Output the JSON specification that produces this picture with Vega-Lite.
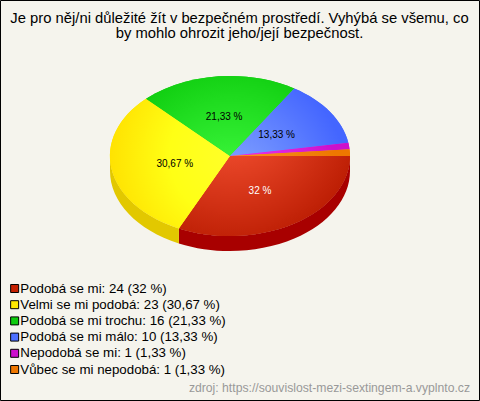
{
"$schema":"https://vega.github.io/schema/vega-lite/v6.json",
"width":479,"height":400,"padding":{"left":0,"top":0,"right":1,"bottom":1},"autosize":{"type":"none"},
"background":"#F5F4ED",
"config":{"view":{"stroke":"#000","strokeWidth":1,"fill":"#F5F4ED"},"font":"Liberation Sans"},
"title":{"text":["Je pro něj/ni důležité žít v bezpečném prostředí. Vyhýbá se všemu, co","by mohlo ohrozit jeho/její bezpečnost."],"fontSize":14.8,"fontWeight":"normal","color":"#000","anchor":"middle","lineHeight":15,"offset":-41,"font":"Liberation Sans"},
"data":{"values":[
{"i":1,"pocet":24,"label":"Podobá se mi: 24 (32 %)","pct":"32 %"},
{"i":2,"pocet":23,"label":"Velmi se mi podobá: 23 (30,67 %)","pct":"30,67 %"},
{"i":3,"pocet":16,"label":"Podobá se mi trochu: 16 (21,33 %)","pct":"21,33 %"},
{"i":4,"pocet":10,"label":"Podobá se mi málo: 10 (13,33 %)","pct":"13,33 %"},
{"i":5,"pocet":1,"label":"Nepodobá se mi: 1 (1,33 %)","pct":"1,33 %"},
{"i":6,"pocet":1,"label":"Vůbec se mi nepodobá: 1 (1,33 %)","pct":"1,33 %"}
]},
"transform":[
{"joinaggregate":[{"op":"sum","field":"pocet","as":"celkem"}]},
{"stack":"pocet","sort":[{"field":"i","order":"ascending"}],"as":["s0","s1"]},
{"calculate":"datum.s0/datum.celkem*2*PI","as":"a0"},
{"calculate":"datum.s1/datum.celkem*2*PI","as":"a1"},
{"calculate":"round(12000*cos(datum.a0))/100","as":"x0"},
{"calculate":"round(8000*sin(datum.a0))/100","as":"y0"},
{"calculate":"round(12000*cos(datum.a1))/100","as":"x1"},
{"calculate":"round(8000*sin(datum.a1))/100","as":"y1"},
{"calculate":"min(datum.a1,PI)","as":"w1"},
{"calculate":"round(12000*cos(datum.w1))/100","as":"xw"},
{"calculate":"round(8000*sin(datum.w1))/100","as":"yw"},
{"calculate":"'M0,0 L'+datum.x0+','+datum.y0+' A120,80 0 0 1 '+datum.x1+','+datum.y1+' Z'","as":"d"},
{"calculate":"'M'+datum.x0+','+datum.y0+' A120,80 0 0 1 '+datum.xw+','+datum.yw+' L'+datum.xw+','+(datum.yw+15)+' A120,80 0 0 0 '+datum.x0+','+(datum.y0+15)+' Z'","as":"w"},
{"calculate":"230+56*cos((datum.a0+datum.a1)/2)","as":"lx"},
{"calculate":"157+40*sin((datum.a0+datum.a1)/2)","as":"ly"}
],
"layer":[
{"mark":{"type":"point","filled":true,"opacity":1,"size":4,"xOffset":-9.5,"yOffset":-44},
 "encoding":{
  "shape":{"field":"d","type":"nominal","scale":null,"legend":null},
  "color":{"field":"label","type":"nominal","sort":null,
   "scale":{"domain":["Podobá se mi: 24 (32 %)","Velmi se mi podobá: 23 (30,67 %)","Podobá se mi trochu: 16 (21,33 %)","Podobá se mi málo: 10 (13,33 %)","Nepodobá se mi: 1 (1,33 %)","Vůbec se mi nepodobá: 1 (1,33 %)"],"range":["#C42000","#FFE800","#0FCC0F","#4D70FF","#CC10CC","#EE7700"]},
   "legend":{"orient":"none","legendX":8,"legendY":281,"title":null,"symbolType":"square","symbolSize":64,"symbolStrokeColor":"#000","symbolStrokeWidth":1,"symbolOpacity":1,"labelFontSize":13.3,"labelColor":"#000","labelFont":"Liberation Sans","labelOffset":-1,"rowPadding":1.2,"clipHeight":15,"labelLimit":300}}}},
{"transform":[{"filter":"datum.i==1"}],"mark":{"type":"point","filled":true,"opacity":1,"size":4,"xOffset":-9.5,"yOffset":-44,"fill":"#A80000"},"encoding":{"shape":{"field":"w","type":"nominal","scale":null,"legend":null}}},
{"transform":[{"filter":"datum.i==2"}],"mark":{"type":"point","filled":true,"opacity":1,"size":4,"xOffset":-9.5,"yOffset":-44,"fill":"#E2C800"},"encoding":{"shape":{"field":"w","type":"nominal","scale":null,"legend":null}}},
{"transform":[{"filter":"datum.i==1"}],"mark":{"type":"point","filled":true,"opacity":1,"size":4,"xOffset":-9.5,"yOffset":-44,"fill":{"gradient":"radial","x1":0.294,"y1":0,"r1":0,"x2":0.294,"y2":0,"r2":0.85,"stops":[{"offset":0,"color":"#FF5A3A"},{"offset":1,"color":"#B81A00"}]}},"encoding":{"shape":{"field":"d","type":"nominal","scale":null,"legend":null}}},
{"transform":[{"filter":"datum.i==2"}],"mark":{"type":"point","filled":true,"opacity":1,"size":4,"xOffset":-9.5,"yOffset":-44,"fill":{"gradient":"radial","x1":1,"y1":0.44,"r1":0,"x2":1,"y2":0.44,"r2":1,"stops":[{"offset":0,"color":"#FFFF2A"},{"offset":0.5,"color":"#FFFF15"},{"offset":1,"color":"#FFE000"}]}},"encoding":{"shape":{"field":"d","type":"nominal","scale":null,"legend":null}}},
{"transform":[{"filter":"datum.i==3"}],"mark":{"type":"point","filled":true,"opacity":1,"size":4,"xOffset":-9.5,"yOffset":-44,"fill":{"gradient":"radial","x1":0.57,"y1":1,"r1":0,"x2":0.57,"y2":1,"r2":0.95,"stops":[{"offset":0,"color":"#44FF44"},{"offset":1,"color":"#0AC80A"}]}},"encoding":{"shape":{"field":"d","type":"nominal","scale":null,"legend":null}}},
{"transform":[{"filter":"datum.i==4"}],"mark":{"type":"point","filled":true,"opacity":1,"size":4,"xOffset":-9.5,"yOffset":-44,"fill":{"gradient":"radial","x1":0,"y1":1,"r1":0,"x2":0,"y2":1,"r2":1,"stops":[{"offset":0,"color":"#88A8FF"},{"offset":1,"color":"#4466FF"}]}},"encoding":{"shape":{"field":"d","type":"nominal","scale":null,"legend":null}}},
{"transform":[{"filter":"datum.i==5"}],"mark":{"type":"point","filled":true,"opacity":1,"size":4,"xOffset":-9.5,"yOffset":-44,"fill":{"gradient":"radial","x1":0,"y1":1,"r1":0,"x2":0,"y2":1,"r2":1,"stops":[{"offset":0,"color":"#FF44FF"},{"offset":1,"color":"#CC10CC"}]}},"encoding":{"shape":{"field":"d","type":"nominal","scale":null,"legend":null}}},
{"transform":[{"filter":"datum.i==6"}],"mark":{"type":"point","filled":true,"opacity":1,"size":4,"xOffset":-9.5,"yOffset":-44,"fill":{"gradient":"radial","x1":0,"y1":1,"r1":0,"x2":0,"y2":1,"r2":1,"stops":[{"offset":0,"color":"#FFA030"},{"offset":1,"color":"#EE7700"}]}},"encoding":{"shape":{"field":"d","type":"nominal","scale":null,"legend":null}}},
{"transform":[{"filter":"datum.pocet>=5"}],"mark":{"type":"text","fontSize":10,"font":"Liberation Sans","align":"center","baseline":"middle"},
 "encoding":{"x":{"field":"lx","type":"quantitative","scale":null,"axis":null},"y":{"field":"ly","type":"quantitative","scale":null,"axis":null},"text":{"field":"pct"},
 "color":{"condition":{"test":"datum.i==1","value":"#fff"},"value":"#000"}}},
{"transform":[{"filter":"datum.i==1"}],"mark":{"type":"text","x":{"expr":"width-9"},"y":{"expr":"height-12"},"align":"right","baseline":"middle","fontSize":12.2,"color":"#999","font":"Liberation Sans","text":"zdroj: https://souvislost-mezi-sextingem-a.vyplnto.cz"},"encoding":{}}
]
}
